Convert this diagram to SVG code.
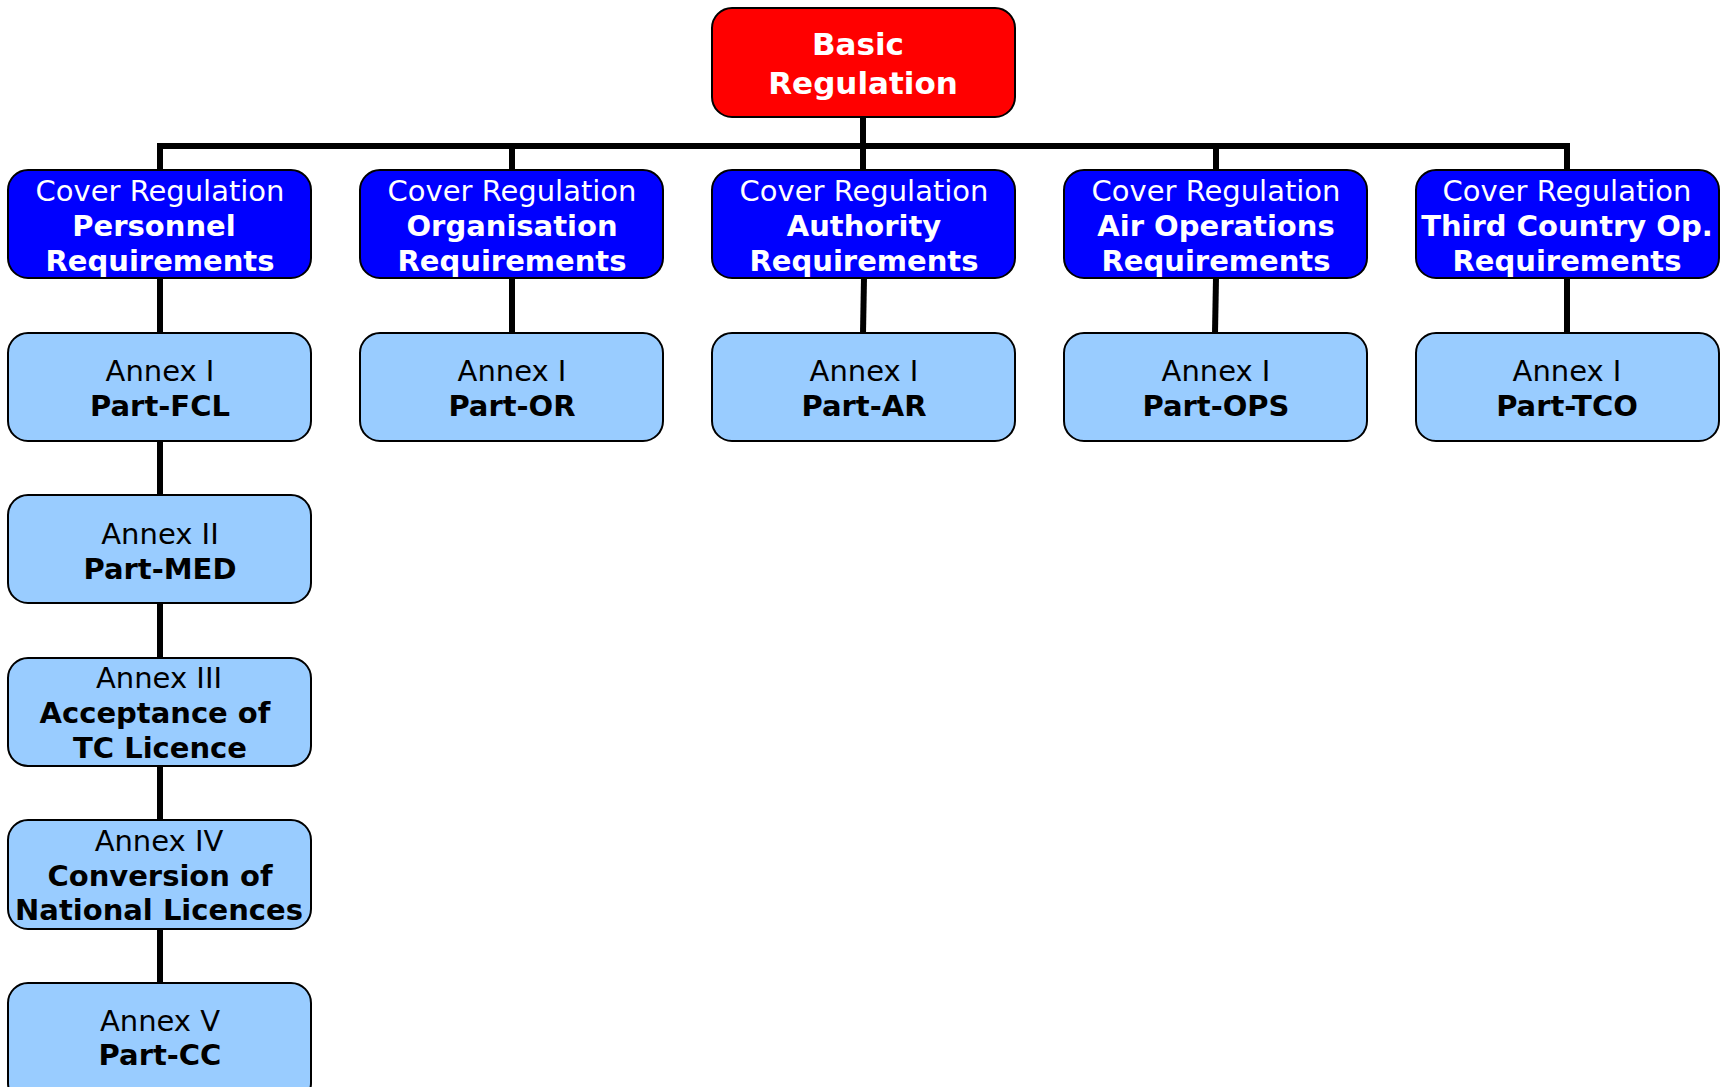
<svg xmlns="http://www.w3.org/2000/svg" width="1725" height="1087" viewBox="0 0 1725 1087">
<style>
.box{stroke:#000;stroke-width:2}
.red{fill:#FF0000}
.blue{fill:#0000FF}
.lb{fill:#99CCFF}
text{font-family:"DejaVu Sans","Verdana",sans-serif;font-size:29px;text-anchor:middle}
.w{fill:#fff}
.k{fill:#000}
.b{font-weight:bold}
.conn{stroke:#000;stroke-width:6;fill:none}
</style>
<rect width="1725" height="1087" fill="#fff"/>
<g id="connectors">
<line class="conn" x1="863" y1="117" x2="863" y2="146"/>
<line class="conn" x1="157" y1="146" x2="1570" y2="146"/>
<line class="conn" x1="160" y1="146" x2="160" y2="170"/>
<line class="conn" x1="512" y1="146" x2="512" y2="170"/>
<line class="conn" x1="863" y1="146" x2="863" y2="170"/>
<line class="conn" x1="1216" y1="146" x2="1216" y2="170"/>
<line class="conn" x1="1567" y1="146" x2="1567" y2="170"/>
<line class="conn" x1="160" y1="278" x2="160" y2="333"/>
<line class="conn" x1="512" y1="278" x2="512" y2="333"/>
<line class="conn" x1="864" y1="278" x2="863" y2="333"/>
<line class="conn" x1="1216" y1="278" x2="1215" y2="333"/>
<line class="conn" x1="1567" y1="278" x2="1567" y2="333"/>
<line class="conn" x1="160" y1="441" x2="160" y2="495"/>
<line class="conn" x1="160" y1="603" x2="160" y2="658"/>
<line class="conn" x1="160" y1="766" x2="160" y2="820"/>
<line class="conn" x1="160" y1="929" x2="160" y2="983"/>
</g>
<g id="basic">
<rect class="box red" x="712" y="8" width="303" height="109" rx="20"/>
<text class="w b" x="858" y="55" style="font-size:31px">Basic</text>
<text class="w b" x="863" y="94" style="font-size:31px">Regulation</text>
</g>
<g id="cover-personnel">
<rect class="box blue" x="8" y="170" width="303" height="108" rx="20"/>
<text class="w" x="160" y="201">Cover Regulation</text>
<text class="w b" x="154" y="236">Personnel</text>
<text class="w b" x="160" y="271">Requirements</text>
</g>
<g id="cover-organisation">
<rect class="box blue" x="360" y="170" width="303" height="108" rx="20"/>
<text class="w" x="512" y="201">Cover Regulation</text>
<text class="w b" x="512" y="236">Organisation</text>
<text class="w b" x="512" y="271">Requirements</text>
</g>
<g id="cover-authority">
<rect class="box blue" x="712" y="170" width="303" height="108" rx="20"/>
<text class="w" x="864" y="201">Cover Regulation</text>
<text class="w b" x="864" y="236">Authority</text>
<text class="w b" x="864" y="271">Requirements</text>
</g>
<g id="cover-airops">
<rect class="box blue" x="1064" y="170" width="303" height="108" rx="20"/>
<text class="w" x="1216" y="201">Cover Regulation</text>
<text class="w b" x="1216" y="236">Air Operations</text>
<text class="w b" x="1216" y="271">Requirements</text>
</g>
<g id="cover-tco">
<rect class="box blue" x="1416" y="170" width="303" height="108" rx="20"/>
<text class="w" x="1567" y="201">Cover Regulation</text>
<text class="w b" x="1567" y="236">Third Country Op.</text>
<text class="w b" x="1567" y="271">Requirements</text>
</g>
<g id="part-fcl">
<rect class="box lb" x="8" y="333" width="303" height="108" rx="20"/>
<text class="k" x="160" y="381">Annex I</text>
<text class="k b" x="160" y="416">Part-FCL</text>
</g>
<g id="part-or">
<rect class="box lb" x="360" y="333" width="303" height="108" rx="20"/>
<text class="k" x="512" y="381">Annex I</text>
<text class="k b" x="512" y="416">Part-OR</text>
</g>
<g id="part-ar">
<rect class="box lb" x="712" y="333" width="303" height="108" rx="20"/>
<text class="k" x="864" y="381">Annex I</text>
<text class="k b" x="864" y="416">Part-AR</text>
</g>
<g id="part-ops">
<rect class="box lb" x="1064" y="333" width="303" height="108" rx="20"/>
<text class="k" x="1216" y="381">Annex I</text>
<text class="k b" x="1216" y="416">Part-OPS</text>
</g>
<g id="part-tco">
<rect class="box lb" x="1416" y="333" width="303" height="108" rx="20"/>
<text class="k" x="1567" y="381">Annex I</text>
<text class="k b" x="1567" y="416">Part-TCO</text>
</g>
<g id="part-med">
<rect class="box lb" x="8" y="495" width="303" height="108" rx="20"/>
<text class="k" x="160" y="544">Annex II</text>
<text class="k b" x="160" y="579">Part-MED</text>
</g>
<g id="annex-iii">
<rect class="box lb" x="8" y="658" width="303" height="108" rx="20"/>
<text class="k" x="159" y="688">Annex III</text>
<text class="k b" x="155" y="723">Acceptance of</text>
<text class="k b" x="160" y="758">TC Licence</text>
</g>
<g id="annex-iv">
<rect class="box lb" x="8" y="820" width="303" height="109" rx="20"/>
<text class="k" x="159" y="851">Annex IV</text>
<text class="k b" x="160" y="886">Conversion of</text>
<text class="k b" x="159" y="920">National Licences</text>
</g>
<g id="part-cc">
<rect class="box lb" x="8" y="983" width="303" height="120" rx="20"/>
<text class="k" x="160" y="1031">Annex V</text>
<text class="k b" x="160" y="1065">Part-CC</text>
</g>
</svg>
